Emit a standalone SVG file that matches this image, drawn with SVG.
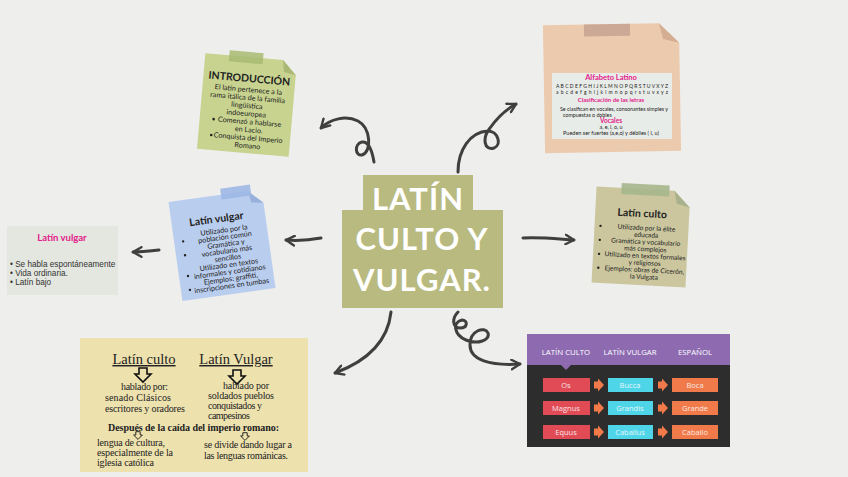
<svg xmlns="http://www.w3.org/2000/svg" width="848" height="477" viewBox="0 0 848 477">
<style>
.note{font-family:Lato,"Open Sans",sans-serif;fill:#222;text-anchor:middle}
.nt{font-size:7.2px}
.ns{font-size:6.6px}
.ttl{font-weight:bold;font-size:10.5px}
.con{fill:none;stroke:#3f3f3d;stroke-width:3;stroke-linecap:round;stroke-linejoin:round}
.hw{font-family:"Liberation Serif",serif;font-size:10px;fill:#222}
.hd{font-size:14.5px;text-decoration:underline}
.pk{fill:#e2208a;font-weight:bold}
.tbl{font-family:"Open Sans",sans-serif;font-size:7.8px;fill:#fff;text-anchor:middle}
.btn{font-family:"Open Sans",sans-serif;font-size:7.5px;fill:#fff;text-anchor:middle;opacity:.85}
</style>
<defs>
<marker id="ah" viewBox="0 0 10 10" refX="8" refY="5" markerWidth="4" markerHeight="4" orient="auto"><path d="M1,1 L8,5 L1,9" fill="none" stroke="#3f3f3d" stroke-width="2" stroke-linecap="round" stroke-linejoin="round"/></marker>
<path id="arr" d="M-4,-6 h8 v6 h4 l-8,8 l-8,-8 h4 z" fill="none" stroke="#111" stroke-width="1.6"/>
<path id="oarr" d="M-5,-3.5 h4 v-3 l6,6.5 l-6,6.5 v-3 h-4 z" fill="#f07a4a"/>
</defs>
<rect width="848" height="477" fill="#eeeeec"/>

<g id="connectors">
<path class="con" marker-end="url(#ah)" d="M374,162 C372,150 368,141 362,142 C354,144 355,156 362,155 C372,152 371,128 358,121 C346,115 330,119 321,128"/>
<path class="con" marker-end="url(#ah)" d="M458,172 C458,150 470,132 488,131 C498,131 502,145 494,148 C484,151 482,138 490,128 C497,118 505,110 516,104"/>
<path class="con" marker-end="url(#ah)" d="M321,238 C310,240 298,241 286,240"/>
<path class="con" marker-end="url(#ah)" d="M523,238 C540,237 558,239 574,240"/>
<path class="con" marker-end="url(#ah)" d="M159,250 C150,251 142,252 133,252"/>
<path class="con" marker-end="url(#ah)" d="M391,312 C388,340 370,360 335,373"/>
<path class="con" marker-end="url(#ah)" d="M458,312 C452,318 452,328 460,328 C468,328 468,320 462,320 C452,322 454,335 466,340 C478,345 490,340 488,333 C485,326 470,330 470,345 C470,360 490,366 520,364"/>
</g>

<g id="central">
<rect x="363" y="175" width="110" height="40" fill="#b8ba80"/>
<rect x="342" y="210" width="161" height="98" fill="#b8ba80"/>
<g font-family="Lato,'Open Sans',sans-serif" font-size="31" font-weight="bold" fill="#fff" text-anchor="middle" letter-spacing="1">
<text x="418" y="210">LATÍN</text>
<text x="422" y="250">CULTO Y</text>
<text x="422" y="291">VULGAR.</text>
</g>
</g>

<g id="introduccion" transform="translate(247,105) rotate(5)">
<path d="M-46,-48 H32 L46,-34 V48 H-46 Z" fill="#c7d38f"/>
<path d="M32,-48 L46,-34 L34,-36 Z" fill="#a9b874"/>
<rect x="-22" y="-53" width="34" height="11" fill="#a8bb72" opacity=".85"/>
<g class="note">
<text class="ttl" y="-23">INTRODUCCIÓN</text>
<text class="nt" y="-13">El latín pertenece a la</text>
<text class="nt" y="-5">rama itálica de la familia</text>
<text class="nt" y="3">lingüística</text>
<text class="nt" y="11">indoeuropea</text>
<text class="nt" y="19" x="4">Comenzó a hablarse</text>
<text class="nt" y="27" x="4">en Lacio.</text>
<text class="nt" y="35" x="4">Conquista del Imperio</text>
<text class="nt" y="43" x="4">Romano</text>
<circle cx="-32" cy="17" r="1.3" fill="#222"/>
<circle cx="-33" cy="33" r="1.3" fill="#222"/>
</g>
</g>

<g id="alfabeto">
<g transform="translate(612,88) rotate(-1)">
<path d="M-68,-64 H48 L68,-44 V64 H-68 Z" fill="#eccaae"/>
<path d="M48,-64 L68,-44 L52,-48 Z" fill="#d5ad92"/>
<rect x="-27" y="-64" width="46" height="12" fill="#c9a595" opacity=".9"/>
</g>
<rect x="552" y="73" width="120" height="66" fill="#e8ece8"/>
<g font-family="Lato,'Open Sans',sans-serif" text-anchor="middle" fill="#222">
<text class="pk" x="611" y="80" font-size="7.5">Alfabeto Latino</text>
<text x="556" y="88" font-size="5" text-anchor="start" textLength="112">A B C D E F G H I J K L M N O P Q R S T U V X Y Z</text>
<text x="556" y="94" font-size="5" text-anchor="start" textLength="112">a b c d e f g h i j k l m n o p q r s t u v x y z</text>
<text class="pk" x="611" y="102" font-size="6">Clasificación de las letras</text>
<text x="614" y="111" font-size="5.3">Se clasifican en vocales, consonantes simples y</text>
<text x="563" y="117" font-size="5.3" text-anchor="start">compuestas o dobles</text>
<text class="pk" x="611" y="123" font-size="6.5">Vocales</text>
<text x="611" y="129" font-size="5.3">a, e, i, o, u</text>
<text x="611" y="135" font-size="5.5">Pueden ser fuertes (a,e,o) y débiles ( i, u)</text>
</g>
</g>

<g id="latin-vulgar-note" transform="translate(222,245) rotate(-8)">
<path d="M-47,-50 H33 L47,-36 V50 H-47 Z" fill="#b9cdef"/>
<path d="M33,-50 L47,-36 L35,-38 Z" fill="#98b0dc"/>
<rect x="6" y="-56" width="30" height="11" fill="#9db8e6" opacity=".9"/>
<g class="note">
<text class="ttl" y="-23" x="-2">Latín vulgar</text>
<text class="nt" y="-12" x="4">Utilizado por la</text>
<text class="nt" y="-5" x="4">población común</text>
<text class="nt" y="2" x="4">Gramática y</text>
<text class="nt" y="9" x="4">vocabulario más</text>
<text class="nt" y="16" x="4">sencillos</text>
<text class="nt" y="23" x="4">Utilizado en textos</text>
<text class="nt" y="30" x="4">informales y cotidianos</text>
<text class="nt" y="37" x="4">Ejemplos: graffiti,</text>
<text class="nt" y="44" x="4">inscripciones en tumbas</text>
<circle cx="-38" cy="-9" r="1.2" fill="#222"/>
<circle cx="-38" cy="5" r="1.2" fill="#222"/>
<circle cx="-38" cy="26" r="1.2" fill="#222"/>
<circle cx="-38" cy="40" r="1.2" fill="#222"/>
</g>
</g>

<g id="latin-culto-note" transform="translate(641,237) rotate(3)">
<path d="M-47,-48 H31 L47,-32 V48 H-47 Z" fill="#cbc69d"/>
<path d="M31,-48 L47,-32 L34,-35 Z" fill="#a9b18c"/>
<rect x="-22" y="-53" width="48" height="11" fill="#a6b68d" opacity=".9"/>
<g class="note">
<text class="ttl" y="-20">Latín culto</text>
<text class="ns" y="-7" x="5">Utilizado por la élite</text>
<text class="ns" y="0" x="5">educada</text>
<text class="ns" y="7" x="5">Gramática y vocabulario</text>
<text class="ns" y="14" x="5">más complejos</text>
<text class="ns" y="21" x="5">Utilizado en textos formales</text>
<text class="ns" y="28" x="5">y religiosos</text>
<text class="ns" y="35" x="5">Ejemplos: obras de Cicerón,</text>
<text class="ns" y="42" x="5">la Vulgata</text>
<circle cx="-41" cy="-9" r="1.2" fill="#222"/>
<circle cx="-41" cy="5" r="1.2" fill="#222"/>
<circle cx="-41" cy="19" r="1.2" fill="#222"/>
<circle cx="-41" cy="33" r="1.2" fill="#222"/>
</g>
</g>

<g id="latin-vulgar-box">
<rect x="7" y="226" width="111" height="69" fill="#e4e7df"/>
<g font-family="Lato,'Open Sans',sans-serif">
<text class="pk" x="62" y="241" font-size="9.5" text-anchor="middle">Latín vulgar</text>
<g font-family="'Liberation Sans',Arial,sans-serif" font-size="8.2" fill="#333">
<text x="10" y="267">• Se habla espontáneamente</text>
<text x="10" y="276">• Vida ordinaria.</text>
<text x="10" y="285">• Latín bajo</text>
</g>
</g>
</g>

<g id="comparacion">
<rect x="80" y="338" width="228" height="134" fill="#ede1ae"/>
<text class="hw hd" x="144" y="364" text-anchor="middle">Latín culto</text>
<text class="hw hd" x="236" y="364" text-anchor="middle">Latín Vulgar</text>
<use href="#arr" x="143" y="374"/>
<use href="#arr" x="237" y="376"/>
<text class="hw" x="121" y="390" textLength="47">hablado por:</text>
<text class="hw" x="105" y="401" textLength="66">senado  Clásicos</text>
<text class="hw" x="105" y="412" textLength="80">escritores y oradores</text>
<text class="hw" x="223" y="389" textLength="46">hablado por</text>
<text class="hw" x="208" y="399" textLength="66">soldados  pueblos</text>
<text class="hw" x="208" y="409" textLength="54">conquistados y</text>
<text class="hw" x="208" y="419" textLength="42">campesinos</text>
<text class="hw" x="108" y="431" font-weight="bold" textLength="171">Después de la caída del imperio romano:</text>
<g transform="translate(138,435) scale(0.55)"><use href="#arr"/></g>
<g transform="translate(245,436) scale(0.55)"><use href="#arr"/></g>
<text class="hw" x="97" y="446" textLength="68">lengua de cultura,</text>
<text class="hw" x="97" y="456" textLength="76">especialmente de la</text>
<text class="hw" x="97" y="466" textLength="57">iglesia católica</text>
<text class="hw" x="204" y="448" textLength="88">se divide dando lugar a</text>
<text class="hw" x="204" y="459" textLength="84">las lenguas románicas.</text>
</g>

<g id="tabla">
<rect x="527" y="334" width="203" height="113" fill="#2d2d2d"/>
<rect x="527" y="334" width="203" height="31" fill="#8e6bb1"/>
<path d="M561,365 L566,370 L571,365 Z" fill="#8e6bb1"/>
<text class="tbl" x="566" y="355">LATÍN CULTO</text>
<text class="tbl" x="630" y="355">LATÍN VULGAR</text>
<text class="tbl" x="695" y="355">ESPAÑOL</text>
<g>
<rect x="543" y="378" width="47" height="14" fill="#e04b55"/>
<rect x="608" y="378" width="45" height="14" fill="#4fd5e8"/>
<rect x="672" y="378" width="46" height="14" fill="#f07a4a"/>
<rect x="543" y="401" width="47" height="14" fill="#e04b55"/>
<rect x="608" y="401" width="45" height="14" fill="#4fd5e8"/>
<rect x="672" y="401" width="46" height="14" fill="#f07a4a"/>
<rect x="543" y="425" width="47" height="14" fill="#e04b55"/>
<rect x="608" y="425" width="45" height="14" fill="#4fd5e8"/>
<rect x="672" y="425" width="46" height="14" fill="#f07a4a"/>
<use href="#oarr" x="599" y="385"/><use href="#oarr" x="663" y="385"/>
<use href="#oarr" x="599" y="408"/><use href="#oarr" x="663" y="408"/>
<use href="#oarr" x="599" y="432"/><use href="#oarr" x="663" y="432"/>
<text class="btn" x="566" y="388">Os</text>
<text class="btn" x="630" y="388">Bucca</text>
<text class="btn" x="695" y="388">Boca</text>
<text class="btn" x="566" y="411">Magnus</text>
<text class="btn" x="630" y="411">Grandis</text>
<text class="btn" x="695" y="411">Grande</text>
<text class="btn" x="566" y="435">Equus</text>
<text class="btn" x="630" y="435">Caballus</text>
<text class="btn" x="695" y="435">Caballo</text>
</g>
</g>
</svg>
